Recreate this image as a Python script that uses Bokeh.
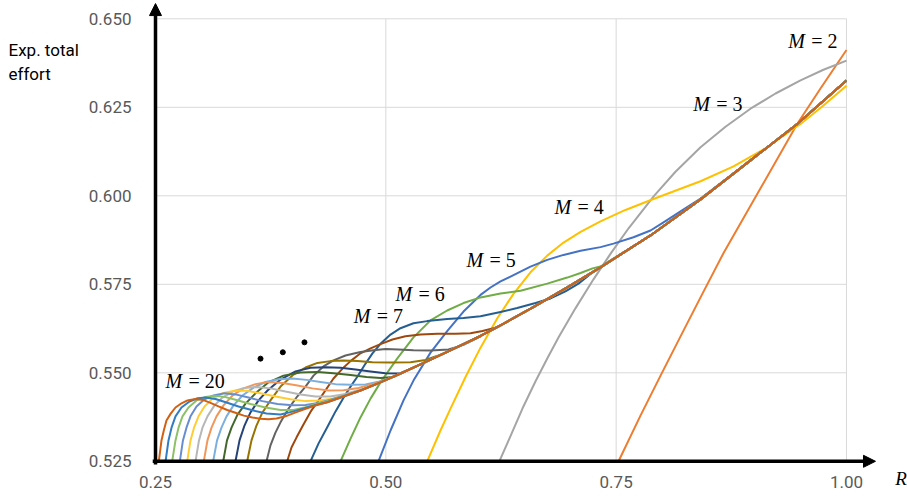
from bokeh.plotting import figure
from bokeh.models import Range1d, FixedTicker, Arrow, NormalHead, Label, ColumnDataSource, NumeralTickFormatter
from bokeh.core.properties import value
from bokeh.embed import file_html
from bokeh.resources import INLINE

# ---------------- data ----------------
X_TICKS = [0.25, 0.50, 0.75, 1.00]
Y_TICKS = [0.525, 0.550, 0.575, 0.600, 0.625, 0.650]

M_VALUES = list(range(2, 21))
COLORS = {
    2: "#ED7D31", 3: "#A5A5A5", 4: "#FFC000", 5: "#4472C4", 6: "#70AD47",
    7: "#255E91", 8: "#9E480E", 9: "#636363", 10: "#997300", 11: "#264478",
    12: "#43682B", 13: "#7CAFDD", 14: "#F1975A", 15: "#B7B7B7", 16: "#FFCD33",
    17: "#698ED0", 18: "#8CC168", 19: "#327DC2", 20: "#D26012",
}

R_M2 = [0.7526, 0.7764, 0.7982, 0.8199, 0.8416, 0.8669, 0.9067, 0.9465, 0.9718, 1.0]
E_M2 = [0.525, 0.5379, 0.5492, 0.5603, 0.5713, 0.5840, 0.6021, 0.6203, 0.6303, 0.6412]

R_M3 = [0.6232, 0.6353, 0.6483, 0.6625, 0.6755, 0.6877, 0.7058, 0.7254, 0.7438, 0.7637,
        0.7909, 0.8144, 0.8416, 0.8687, 0.8958, 0.9230, 0.9501, 0.9750, 1.0]
E_M3 = [0.525, 0.5321, 0.5399, 0.5476, 0.5542, 0.5601, 0.5682, 0.5764, 0.5836, 0.5909,
        0.5999, 0.6068, 0.6137, 0.6195, 0.6246, 0.6289, 0.6326, 0.6356, 0.6382]

R_M4 = [0.5449, 0.5593, 0.5702, 0.5865, 0.6028, 0.6212, 0.6386, 0.6570, 0.6752, 0.6929,
        0.7114, 0.7330, 0.7601, 0.7905, 0.8199, 0.8416, 0.8774, 0.9140, 0.9501, 0.9740, 1.0]
E_M4 = [0.525, 0.5337, 0.5399, 0.5488, 0.5571, 0.5655, 0.5723, 0.5784, 0.5831, 0.5868,
        0.5898, 0.5928, 0.5960, 0.5991, 0.6020, 0.6041, 0.6083, 0.6137, 0.6203, 0.6253, 0.6311]

R_M5 = [0.4920, 0.5051, 0.5192, 0.5300, 0.5485, 0.5666, 0.5843, 0.6028, 0.6136, 0.6245,
        0.6386, 0.6570, 0.6752, 0.6929, 0.7114, 0.7330, 0.7471, 0.7688, 0.7873, 0.8014,
        0.8199, 0.8416]
E_M5 = [0.525, 0.5337, 0.5422, 0.5478, 0.5557, 0.5618, 0.5673, 0.5720, 0.5741, 0.5758,
        0.5776, 0.5800, 0.5819, 0.5833, 0.5845, 0.5855, 0.5865, 0.5883, 0.5902, 0.5925,
        0.5956, 0.5992]

R_M6 = [0.4508, 0.4617, 0.4725, 0.4834, 0.4942, 0.5123, 0.5300, 0.5485, 0.5666, 0.5843,
        0.6028, 0.6245, 0.6462, 0.6752, 0.6969, 0.7114, 0.7244, 0.7330]
E_M6 = [0.525, 0.5314, 0.5374, 0.5427, 0.5473, 0.5540, 0.5600, 0.5648, 0.5676, 0.5697,
        0.5713, 0.5724, 0.5732, 0.5752, 0.5769, 0.5782, 0.5795, 0.5800]

R_M7 = [0.4182, 0.4269, 0.4364, 0.4454, 0.4544, 0.4617, 0.4689, 0.4780, 0.4855, 0.4942,
        0.5051, 0.5159, 0.5300, 0.5449, 0.5666, 0.5843, 0.6028, 0.6245, 0.6426, 0.6625,
        0.6788, 0.6950, 0.7091, 0.7222]
E_M7 = [0.525, 0.5300, 0.5346, 0.5391, 0.5431, 0.5461, 0.5488, 0.5526, 0.5555, 0.5582,
        0.5608, 0.5626, 0.5640, 0.5646, 0.5652, 0.5655, 0.5660, 0.5672, 0.5683, 0.5697,
        0.5710, 0.5730, 0.5752, 0.5779]

R_M8 = [0.3929, 0.3976, 0.4030, 0.4106, 0.4193, 0.4291, 0.4432, 0.4530, 0.4617, 0.4725,
        0.4834, 0.4942, 0.5072, 0.5213, 0.5376, 0.5561, 0.5756, 0.5919, 0.6049, 0.6180, 0.6245]
E_M8 = [0.525, 0.5289, 0.5317, 0.5354, 0.5394, 0.5430, 0.5484, 0.5512, 0.5533, 0.5555,
        0.5569, 0.5581, 0.5594, 0.5603, 0.5608, 0.5610, 0.5610, 0.5612, 0.5618, 0.5627, 0.5634]

R_M9 = [0.3705, 0.3748, 0.3802, 0.3857, 0.3944, 0.4038, 0.4128, 0.4215, 0.4323, 0.4432,
        0.4562, 0.4725, 0.4866, 0.4996, 0.5137, 0.5300, 0.5485, 0.5680, 0.5843, 0.5973]
E_M9 = [0.525, 0.5295, 0.5331, 0.5360, 0.5399, 0.5433, 0.5461, 0.5492, 0.5518, 0.5535,
        0.5549, 0.5559, 0.5564, 0.5567, 0.5566, 0.5564, 0.5563, 0.5566, 0.5579, 0.5596]

R_M10 = [0.3495, 0.3542, 0.3596, 0.3661, 0.3748, 0.3857, 0.3998, 0.4128, 0.4258, 0.4399,
         0.4541, 0.4693, 0.4855, 0.5051, 0.5268, 0.5431, 0.5561]
E_M10 = [0.525, 0.5309, 0.5351, 0.5388, 0.5422, 0.5461, 0.5495, 0.5515, 0.5528, 0.5533,
         0.5535, 0.5533, 0.5530, 0.5529, 0.5530, 0.5536, 0.5548]

R_M11 = [0.3368, 0.3412, 0.3466, 0.3531, 0.3618, 0.3716, 0.3857, 0.4020, 0.4182, 0.4345,
         0.4508, 0.4671, 0.4834, 0.4996, 0.5159]
E_M11 = [0.525, 0.5309, 0.5351, 0.5388, 0.5422, 0.5450, 0.5481, 0.5504, 0.5514, 0.5516,
         0.5514, 0.5509, 0.5504, 0.5499, 0.5498]

R_M12 = [0.3235, 0.3276, 0.3325, 0.3390, 0.3477, 0.3585, 0.3727, 0.3889, 0.4074, 0.4258,
         0.4432, 0.4617, 0.4790, 0.4942, 0.5083]
E_M12 = [0.525, 0.5309, 0.5345, 0.5382, 0.5413, 0.5442, 0.5473, 0.5492, 0.5501, 0.5502,
         0.5499, 0.5494, 0.5488, 0.5485, 0.5488]

R_M13 = [0.3126, 0.3168, 0.3216, 0.3271, 0.3347, 0.3444, 0.3564, 0.3694, 0.3835, 0.3987,
         0.4139, 0.4291, 0.4454, 0.4617, 0.4780, 0.4921, 0.5051]
E_M13 = [0.525, 0.5309, 0.5345, 0.5377, 0.5408, 0.5436, 0.5458, 0.5474, 0.5482, 0.5484,
         0.5480, 0.5474, 0.5468, 0.5466, 0.5467, 0.5475, 0.5485]

R_M14 = [0.3024, 0.3064, 0.3108, 0.3162, 0.3238, 0.3336, 0.3455, 0.3585, 0.3727, 0.3879,
         0.4041, 0.4204, 0.4378, 0.4541, 0.4703, 0.4855, 0.4996]
E_M14 = [0.525, 0.5309, 0.5345, 0.5377, 0.5408, 0.5436, 0.5456, 0.5468, 0.5474, 0.5471,
         0.5464, 0.5456, 0.5450, 0.5451, 0.5457, 0.5468, 0.5480]

R_M15 = [0.2934, 0.2972, 0.3010, 0.3064, 0.3140, 0.3227, 0.3336, 0.3466, 0.3596, 0.3748,
         0.3911, 0.4074, 0.4237, 0.4399, 0.4562, 0.4725, 0.4855]
E_M15 = [0.525, 0.5309, 0.5345, 0.5377, 0.5408, 0.5430, 0.5447, 0.5457, 0.5460, 0.5456,
         0.5447, 0.5439, 0.5433, 0.5433, 0.5440, 0.5453, 0.5464]

R_M16 = [0.2844, 0.2880, 0.2918, 0.2967, 0.3032, 0.3119, 0.3227, 0.3357, 0.3488, 0.3640,
         0.3802, 0.3965, 0.4128, 0.4269, 0.4421, 0.4562, 0.4703, 0.4812]
E_M16 = [0.525, 0.5309, 0.5345, 0.5377, 0.5405, 0.5427, 0.5442, 0.5449, 0.5449, 0.5442,
         0.5433, 0.5425, 0.5420, 0.5422, 0.5427, 0.5437, 0.5449, 0.5459]

R_M17 = [0.2764, 0.2798, 0.2836, 0.2880, 0.2945, 0.3032, 0.3130, 0.3249, 0.3368, 0.3509,
         0.3661, 0.3824, 0.3987, 0.4128, 0.4269, 0.4399, 0.4541, 0.4671]
E_M17 = [0.525, 0.5309, 0.5345, 0.5377, 0.5405, 0.5425, 0.5436, 0.5442, 0.5439, 0.5430,
         0.5420, 0.5412, 0.5408, 0.5409, 0.5415, 0.5424, 0.5435, 0.5446]

R_M18 = [0.2681, 0.2717, 0.2750, 0.2793, 0.2858, 0.2945, 0.3043, 0.3140, 0.3249, 0.3379,
         0.3531, 0.3694, 0.3857, 0.3998, 0.4128, 0.4269, 0.4399, 0.4541]
E_M18 = [0.525, 0.5309, 0.5345, 0.5377, 0.5402, 0.5422, 0.5432, 0.5435, 0.5432, 0.5423,
         0.5412, 0.5402, 0.5395, 0.5395, 0.5403, 0.5414, 0.5422, 0.5434]

R_M19 = [0.2609, 0.2641, 0.2674, 0.2717, 0.2782, 0.2869, 0.2956, 0.3043, 0.3151, 0.3271,
         0.3401, 0.3553, 0.3705, 0.3857, 0.3998, 0.4128, 0.4269]
E_M19 = [0.525, 0.5309, 0.5345, 0.5377, 0.5402, 0.5419, 0.5428, 0.5430, 0.5426, 0.5416,
         0.5405, 0.5394, 0.5385, 0.5382, 0.5391, 0.5401, 0.5411]

R_M20 = [0.2536, 0.2565, 0.2590, 0.2619, 0.2663, 0.2717, 0.2771, 0.2847, 0.2934, 0.3021,
         0.3097, 0.3184, 0.3278, 0.3368, 0.3458, 0.3553, 0.3640, 0.3727, 0.3813, 0.3911,
         0.4001, 0.4106, 0.4215, 0.4364, 0.4541, 0.4725, 0.4942, 0.5159, 0.5376, 0.5666,
         0.6028, 0.6245, 0.6606, 0.6969, 0.7330, 0.7873, 0.8416, 0.8958, 0.9465, 1.0]
E_M20 = [0.525, 0.5309, 0.5337, 0.5365, 0.5384, 0.5402, 0.5412, 0.5422, 0.5426, 0.5423,
         0.5415, 0.5405, 0.5395, 0.5387, 0.5379, 0.5374, 0.5370, 0.5369, 0.5371, 0.5377,
         0.5386, 0.5396, 0.5406, 0.5417, 0.5433, 0.5450, 0.5473, 0.5498, 0.5524, 0.5559,
         0.5604, 0.5634, 0.5686, 0.5741, 0.5798, 0.5888, 0.5990, 0.6100, 0.6203, 0.6326]

CURVES = {
    2: (R_M2, E_M2), 3: (R_M3, E_M3), 4: (R_M4, E_M4), 5: (R_M5, E_M5),
    6: (R_M6, E_M6), 7: (R_M7, E_M7), 8: (R_M8, E_M8), 9: (R_M9, E_M9),
    10: (R_M10, E_M10), 11: (R_M11, E_M11), 12: (R_M12, E_M12), 13: (R_M13, E_M13),
    14: (R_M14, E_M14), 15: (R_M15, E_M15), 16: (R_M16, E_M16), 17: (R_M17, E_M17),
    18: (R_M18, E_M18), 19: (R_M19, E_M19), 20: (R_M20, E_M20),
}

# curve labels (M values shown) and their anchor points
LABEL_M = [2, 3, 4, 5, 6, 7, 20]
LABEL_R = [0.9367, 0.8336, 0.6831, 0.5876, 0.5105, 0.4652, 0.2609]
LABEL_E = [0.6436, 0.6259, 0.5967, 0.5819, 0.5722, 0.5660, 0.5478]
DOT_R = [0.3640, 0.3882, 0.4117]
DOT_E = [0.5540, 0.5558, 0.5586]

# ---------------- figure ----------------
W, H = 907, 496
PX_PER_R = 921.3
PX_PER_E = 3540.0
X0 = 0.25 - 155 / PX_PER_R
X1 = X0 + W / PX_PER_R
Y1 = 0.650 + 18.3 / PX_PER_E
Y0 = Y1 - H / PX_PER_E

p = figure(width=W, height=H, output_backend="svg", toolbar_location=None,
           x_range=Range1d(X0, X1), y_range=Range1d(Y0, Y1),
           min_border_left=0, min_border_right=0, min_border_top=0, min_border_bottom=0)
p.outline_line_color = None
p.background_fill_color = "white"
p.border_fill_color = "white"
p.xgrid.visible = False
p.ygrid.visible = False

for ax in (p.xaxis, p.yaxis):
    ax.axis_line_color = None
    ax.major_tick_line_color = None
    ax.minor_tick_line_color = None
    ax.major_label_text_color = "#595959"
    ax.major_label_text_font = "Roboto"
    ax.major_label_text_font_size = "17px"
p.xaxis.ticker = FixedTicker(ticks=X_TICKS)
p.yaxis.ticker = FixedTicker(ticks=Y_TICKS)
p.xaxis.formatter = NumeralTickFormatter(format="0.00")
p.yaxis.formatter = NumeralTickFormatter(format="0.000")
p.xaxis.fixed_location = Y_TICKS[0]
p.yaxis.fixed_location = X_TICKS[0]
p.xaxis.major_label_standoff = 9
p.yaxis.major_label_standoff = 18

# gridlines
n_h = len(Y_TICKS) - 1
n_v = len(X_TICKS) - 1
p.segment(x0=[X_TICKS[0]] * n_h, y0=Y_TICKS[1:], x1=[X_TICKS[-1]] * n_h, y1=Y_TICKS[1:],
          line_color="#D9D9D9", line_width=1)
p.segment(x0=X_TICKS[1:], y0=[Y_TICKS[0]] * n_v, x1=X_TICKS[1:], y1=[Y_TICKS[-1]] * n_v,
          line_color="#D9D9D9", line_width=1)

# curves (M=2 first, M=20 last on top); converged curves continue along the M=20 envelope
for m in M_VALUES:
    rs, es = CURVES[m]
    rs = list(rs)
    es = list(es)
    if 5 <= m < 20 and rs[-1] < R_M20[-1]:
        for r, e in zip(R_M20, E_M20):
            if r > rs[-1] + 1e-9:
                rs.append(r)
                es.append(e)
    p.line(rs, es, line_color=COLORS[m], line_width=2, line_join="round")

# axes arrows
p.add_layout(Arrow(end=NormalHead(size=12, fill_color="black", line_color="black"),
                   x_start=X_TICKS[0] - 0.003, y_start=Y_TICKS[0], x_end=1.0315, y_end=Y_TICKS[0],
                   line_width=3.5, line_color="black"))
p.add_layout(Arrow(end=NormalHead(size=12, fill_color="black", line_color="black"),
                   x_start=X_TICKS[0], y_start=Y_TICKS[0] - 0.0009, x_end=X_TICKS[0], y_end=0.6543,
                   line_width=3.5, line_color="black"))

# curve labels
src = ColumnDataSource(dict(x=LABEL_R, y=LABEL_E, m=["M"] * len(LABEL_M),
                            rest=["= %d" % m for m in LABEL_M]))
p.text(x="x", y="y", text="m", source=src, text_font=value("Liberation Serif"),
       text_font_style="italic", text_font_size="20px", text_baseline="middle",
       text_align="left", text_color="black")
p.text(x="x", y="y", text="rest", source=src, x_offset=23, text_font=value("Liberation Serif"),
       text_font_size="20px", text_baseline="middle", text_align="left", text_color="black")
p.scatter(DOT_R, DOT_E, size=5, color="black")

# axis titles
p.add_layout(Label(x=X0 + 8 / PX_PER_R, y=0.6440, text="Exp. total", text_font="Roboto",
                   text_font_size="17px", text_color="black", text_baseline="top",
                   text_align="left"))
p.add_layout(Label(x=X0 + 8 / PX_PER_R, y=0.6372, text="effort", text_font="Roboto",
                   text_font_size="17px", text_color="black", text_baseline="top",
                   text_align="left"))
p.add_layout(Label(x=X0 + 900.5 / PX_PER_R, y=0.5201, text="R", text_font="Liberation Serif",
                   text_font_style="italic", text_font_size="19px", text_color="black",
                   text_baseline="middle", text_align="center"))

open("out.html", "w").write(file_html(p, INLINE))
